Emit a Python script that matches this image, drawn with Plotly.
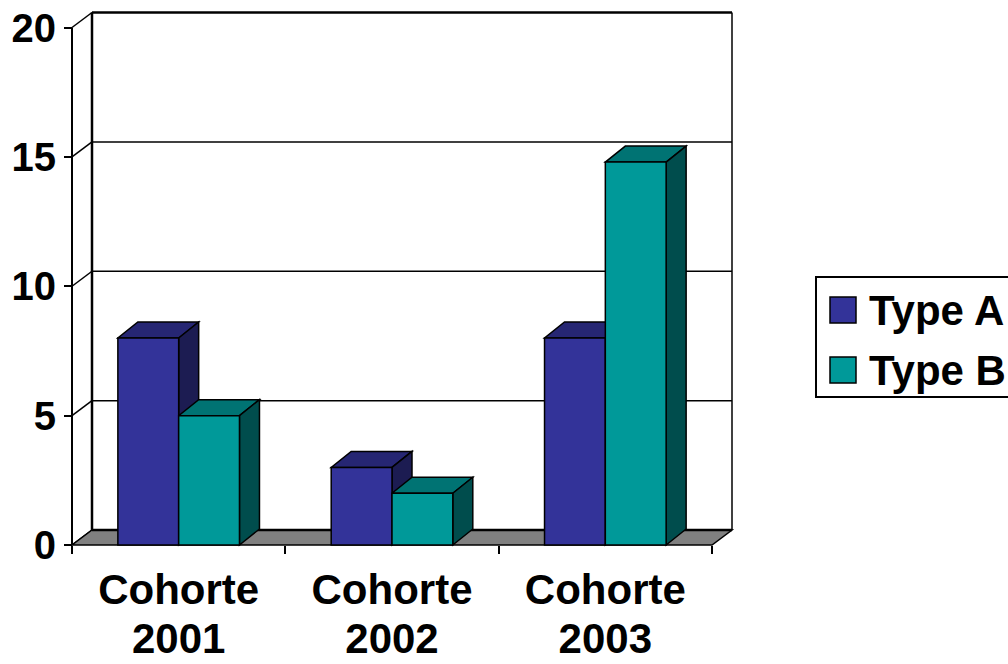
import plotly.graph_objects as go

# ---------------- data ----------------
categories = ["Cohorte 2001", "Cohorte 2002", "Cohorte 2003"]
series_names = ["Type A", "Type B"]
type_a = [8, 3, 8]
type_b = [5, 2, 14.8]
y_ticks = [0, 5, 10, 15, 20]

# ---------------- geometry (pixels) ----------------
W, H = 1008, 664
PL, PR, PT, PB = 62, 740, 5, 556          # padded plotting area
AX_X, AX_Y = 72, 545                       # front-left corner of the chart box
PX_PER_CAT = 640 / 3
PX_PER_UNIT = 517.5 / 20

xmin = -0.5 - (AX_X - PL) / PX_PER_CAT
xmax = -0.5 + (PR - AX_X) / PX_PER_CAT
ymin = -(PB - AX_Y) / PX_PER_UNIT
ymax = (AX_Y - PT) / PX_PER_UNIT
DX = 20 / PX_PER_CAT
DY = 15 / PX_PER_UNIT
BDY = 16 / PX_PER_UNIT
BW = 0.285
XL, XR = -0.5, len(categories) - 0.5
YTOP = y_ticks[-1]

front = {"Type A": "#333399", "Type B": "#009999"}
topc = {"Type A": "#262673", "Type B": "#007373"}
sidec = {"Type A": "#1C1C52", "Type B": "#004D4D"}

FONT = "Liberation Sans, Arial, sans-serif"


def px2paper_x(px):
    return (px - PL) / (PR - PL)


def px2paper_y(py):
    return (PB - py) / (PB - PT)


fig = go.Figure()
shapes = []


def line(x0, y0, x1, y1, w=1.5):
    shapes.append(dict(type="line", xref="x", yref="y", x0=x0, y0=y0, x1=x1, y1=y1,
                       line=dict(color="black", width=w), layer="below"))


def poly(pts, fill, w=1.5):
    p = "M " + " L ".join(f"{a},{b}" for a, b in pts) + " Z"
    shapes.append(dict(type="path", xref="x", yref="y", path=p, fillcolor=fill,
                       line=dict(color="black", width=w), layer="below"))


# back wall gridlines
for v in y_ticks[1:-1]:
    line(XL + DX, v + DY, XR + DX, v + DY, 1.5)
# back wall frame
line(XL + DX, YTOP + DY, XR + DX, YTOP + DY, 2.5)
line(XL + DX, DY, XL + DX, YTOP + DY, 2.5)
line(XR + DX, DY, XR + DX, YTOP + DY, 1.5)
# side wall diagonals
for v in y_ticks:
    line(XL, v, XL + DX, v + DY, 1.5)
# floor
poly([(XL, 0), (XR, 0), (XR + DX, DY), (XL + DX, DY)], "#808080", 1.5)
line(XL + DX, DY, XR + DX, DY, 2.5)
# front-left axis edge
line(XL, 0, XL, YTOP, 2)

# bar 3D faces
for name, vals, off in [("Type A", type_a, -BW), ("Type B", type_b, 0.0)]:
    for i, v in enumerate(vals):
        xl = i + off
        xr = xl + BW
        poly([(xl, v), (xr, v), (xr + DX, v + BDY), (xl + DX, v + BDY)], topc[name], 1.5)
        poly([(xr, 0), (xr, v), (xr + DX, v + BDY), (xr + DX, BDY)], sidec[name], 1.5)

# front faces as bars
for name, vals, off in [("Type A", type_a, -BW), ("Type B", type_b, 0.0)]:
    fig.add_trace(go.Bar(
        x=list(range(len(categories))), y=vals, width=BW, offset=off, name=name,
        marker=dict(color=front[name], line=dict(color="black", width=1.5)),
        showlegend=False, hoverinfo="skip"))

# invisible anchor trace for the second label row axis
fig.add_trace(go.Scatter(x=[0], y=[0], xaxis="x2", mode="markers",
                         marker=dict(opacity=0), showlegend=False, hoverinfo="skip"))

# manual legend
shapes.append(dict(type="rect", xref="paper", yref="paper",
                   x0=px2paper_x(816), x1=px2paper_x(1020),
                   y0=px2paper_y(397), y1=px2paper_y(277),
                   line=dict(color="black", width=2), fillcolor="white", layer="above"))
annotations = []
for k, name in enumerate(series_names):
    cy = 310 + 60 * k
    shapes.append(dict(type="rect", xref="paper", yref="paper",
                       x0=px2paper_x(830), x1=px2paper_x(856),
                       y0=px2paper_y(cy + 13), y1=px2paper_y(cy - 13),
                       line=dict(color="black", width=1.5), fillcolor=front[name], layer="above"))
    annotations.append(dict(xref="paper", yref="paper", x=px2paper_x(867), y=px2paper_y(cy),
                            xanchor="left", yanchor="middle", showarrow=False, text=name,
                            font=dict(family=FONT, size=42, color="black", weight="bold")))

label_font = dict(family=FONT, size=42, color="black", weight="bold")
line1 = [c.split(" ")[0] for c in categories]
line2 = [c.split(" ")[1] for c in categories]

fig.update_layout(
    width=W, height=H,
    margin=dict(l=PL, r=W - PR, t=PT, b=H - PB, pad=0, autoexpand=False),
    paper_bgcolor="white", plot_bgcolor="white",
    barmode="overlay",
    shapes=shapes, annotations=annotations,
    showlegend=False,
    xaxis=dict(
        range=[xmin, xmax], anchor="free", position=px2paper_y(AX_Y),
        tickmode="array", tickvals=list(range(len(categories))),
        ticktext=line1, ticklabelstandoff=16, automargin=False,
        ticks="", showgrid=False, zeroline=False, showline=False,
        tickfont=label_font,
        minor=dict(ticks="outside", ticklen=8, tickwidth=1.5, tickcolor="black",
                   tick0=0.5, dtick=1, showgrid=False),
        fixedrange=True,
    ),
    xaxis2=dict(
        range=[xmin, xmax], anchor="free", position=px2paper_y(AX_Y), overlaying="x",
        side="bottom", automargin=False,
        tickmode="array", tickvals=list(range(len(categories))),
        ticktext=line2, ticklabelstandoff=65,
        ticks="", showgrid=False, zeroline=False, showline=False,
        tickfont=label_font, fixedrange=True,
    ),
    yaxis=dict(
        range=[ymin, ymax], anchor="free", position=px2paper_x(AX_X),
        tickmode="array", tickvals=y_ticks, automargin=False,
        ticks="outside", ticklen=8, tickwidth=1.5, tickcolor="black",
        showgrid=False, zeroline=False, showline=False,
        tickfont=dict(family=FONT, size=40, color="black", weight="bold"),
        fixedrange=True,
    ),
)

fig.write_html("out.html")
